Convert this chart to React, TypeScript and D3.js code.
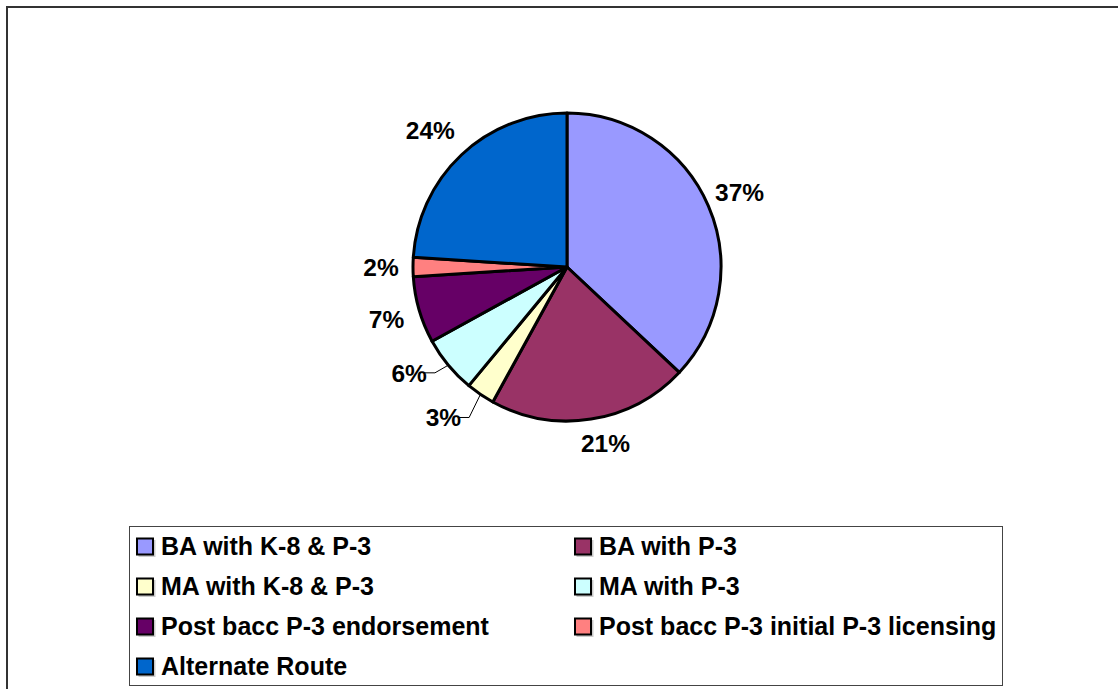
import React from "react";
import * as d3 from "d3";

const categories = [
  "BA with K-8 & P-3",
  "BA with P-3",
  "MA with K-8 & P-3",
  "MA with P-3",
  "Post bacc P-3 endorsement",
  "Post bacc P-3 initial P-3 licensing",
  "Alternate Route",
];
const values = [37, 21, 3, 6, 7, 2, 24];
const labels = ["37%", "21%", "3%", "6%", "7%", "2%", "24%"];
const colors = ["#9999FF", "#993366", "#FFFFCC", "#CCFFFF", "#660066", "#FF8080", "#0066CC"];

// layout constants
const W = 1118;
const H = 689;
const CX = 567;
const CY = 267;
const R = 154;
const LABEL_R = R + 34;
// small manual nudges (dx, dy) for crowded labels, and whether to draw a leader line
const labelNudge: Record<number, [number, number, boolean]> = {
  1: [9, -10, false],
  2: [-18, -5, true],
  3: [-13, -14, true],
  5: [2, 0, false],
  6: [-8, 0, false],
};
const FONT = "'Liberation Sans', Arial, Helvetica, sans-serif";

export default function App() {
  const pie = d3.pie<number>().sort(null).value((d) => d);
  const arcs = pie(values);
  const arc = d3.arc<d3.PieArcDatum<number>>().innerRadius(0).outerRadius(R);

  const legendRows = Math.ceil(categories.length / 2);
  const colX = [137, 575];
  const rowY = d3.range(legendRows).map((i) => 546.5 + i * 40);

  return (
    <div style={{ position: "absolute", left: 0, top: 0 }}>
      <svg width={W} height={H} style={{ display: "block", background: "#fff" }}>
        <rect x={7} y={7} width={W + 20} height={H + 20} fill="#fff" stroke="#333" strokeWidth={2} />
        <g transform={`translate(${CX},${CY})`}>
          {arcs.map((a, i) => (
            <path key={i} d={arc(a) || ""} fill={colors[i]} stroke="#000" strokeWidth={3} strokeLinejoin="round" />
          ))}
          {arcs.map((a, i) => {
            const mid = (a.startAngle + a.endAngle) / 2;
            const nudge = labelNudge[i] || [0, 0, false];
            const lx = Math.sin(mid) * LABEL_R + nudge[0];
            const ly = -Math.cos(mid) * LABEL_R + nudge[1];
            const halfW = labels[i].length * 6.4;
            let leader = null;
            if (nudge[2]) {
              const ex = Math.sin(mid) * R;
              const ey = -Math.cos(mid) * R;
              const sx = lx + halfW + 2;
              leader = (
                <polyline
                  points={`${sx},${ly} ${sx + 11},${ly} ${ex},${ey}`}
                  fill="none"
                  stroke="#000"
                  strokeWidth={1}
                />
              );
            }
            return (
              <g key={"l" + i}>
                {leader}
                <text
                  x={lx}
                  y={ly}
                  dy="0.36em"
                  textAnchor="middle"
                  fontFamily={FONT}
                  fontWeight="bold"
                  fontSize={24.5}
                  fill="#000"
                >
                  {labels[i]}
                </text>
              </g>
            );
          })}
        </g>
        <rect x={129.5} y={526.5} width={873} height={159} fill="#fff" stroke="#444" strokeWidth={1} />
        {categories.map((c, i) => {
          const col = i % 2;
          const row = Math.floor(i / 2);
          const x = colX[col];
          const y = rowY[row];
          return (
            <g key={"lg" + i}>
              <rect x={x + 1.5} y={y - 6.5} width={17} height={17} fill="#999" opacity={0.5} />
              <rect x={x} y={y - 8} width={16} height={16} fill={colors[i]} stroke="#000" strokeWidth={2} />
              <text x={x + 24} y={y + 8.5} fontFamily={FONT} fontWeight="bold" fontSize={25} fill="#000">
                {c}
              </text>
            </g>
          );
        })}
      </svg>
    </div>
  );
}
